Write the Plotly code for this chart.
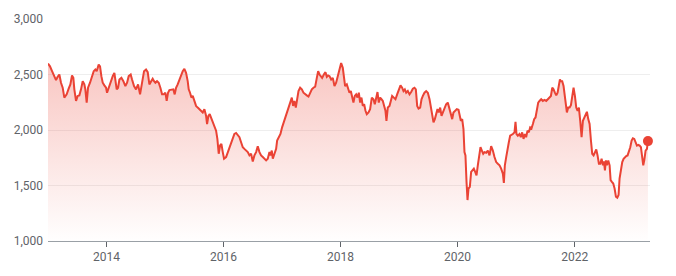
import pandas as pd
import plotly.graph_objects as go

# Decimal-year positions of the readings and the values
years = [
    2013.000, 2013.034, 2013.069, 2013.108, 2013.137, 2013.165, 2013.194, 2013.222, 2013.251, 2013.279,
    2013.319, 2013.353, 2013.382, 2013.410, 2013.433, 2013.450, 2013.479, 2013.507, 2013.536, 2013.564,
    2013.593, 2013.621, 2013.638, 2013.661, 2013.684, 2013.718, 2013.752, 2013.781, 2013.809, 2013.832,
    2013.866, 2013.889, 2013.912, 2013.935, 2013.963, 2013.992, 2014.009, 2014.037, 2014.077, 2014.106,
    2014.134, 2014.151, 2014.174, 2014.197, 2014.220, 2014.254, 2014.288, 2014.322, 2014.351, 2014.379,
    2014.413, 2014.436, 2014.470, 2014.504, 2014.539, 2014.573, 2014.607, 2014.641, 2014.675, 2014.704,
    2014.732, 2014.760, 2014.789, 2014.812, 2014.835, 2014.863, 2014.892, 2014.920, 2014.949, 2014.977,
    2015.005, 2015.028, 2015.051, 2015.074, 2015.108, 2015.142, 2015.165, 2015.188, 2015.216, 2015.245,
    2015.273, 2015.302, 2015.330, 2015.359, 2015.387, 2015.404, 2015.427, 2015.450, 2015.473, 2015.501,
    2015.530, 2015.558, 2015.587, 2015.615, 2015.644, 2015.672, 2015.701, 2015.718, 2015.741, 2015.763,
    2015.786, 2015.815, 2015.843, 2015.872, 2015.894, 2015.917, 2015.940, 2015.963, 2015.986, 2016.008,
    2016.043, 2016.071, 2016.100, 2016.128, 2016.157, 2016.185, 2016.214, 2016.242, 2016.271, 2016.299,
    2016.328, 2016.356, 2016.385,
    2016.413, 2016.442, 2016.470, 2016.499, 2016.527, 2016.556, 2016.584, 2016.613, 2016.641, 2016.670,
    2016.698, 2016.727, 2016.755, 2016.784, 2016.801, 2016.824, 2016.841, 2016.869, 2016.898, 2016.915,
    2016.943, 2016.972, 2017.000, 2017.029, 2017.057, 2017.086, 2017.114, 2017.143, 2017.166, 2017.188,
    2017.211, 2017.234, 2017.257, 2017.280, 2017.308, 2017.337, 2017.365, 2017.394, 2017.422, 2017.451,
    2017.479, 2017.508, 2017.536, 2017.565, 2017.593, 2017.616, 2017.639, 2017.661, 2017.684, 2017.713,
    2017.741, 2017.764, 2017.787, 2017.810, 2017.838, 2017.866, 2017.895, 2017.923, 2017.952, 2017.980,
    2018.009, 2018.037, 2018.054, 2018.077, 2018.106,
    2018.122, 2018.151, 2018.174, 2018.197, 2018.219, 2018.242, 2018.265, 2018.288, 2018.311, 2018.333,
    2018.356, 2018.379, 2018.402, 2018.425, 2018.447, 2018.476, 2018.504, 2018.533, 2018.561, 2018.584,
    2018.607, 2018.630, 2018.652, 2018.675, 2018.698, 2018.721, 2018.744, 2018.766, 2018.783, 2018.806,
    2018.835, 2018.858, 2018.880, 2018.909, 2018.937, 2018.966, 2018.994, 2019.023, 2019.051, 2019.074,
    2019.097, 2019.120, 2019.148, 2019.177, 2019.205, 2019.234, 2019.262, 2019.285, 2019.308, 2019.331,
    2019.359, 2019.382, 2019.405, 2019.433, 2019.462, 2019.490, 2019.519, 2019.541, 2019.564, 2019.587,
    2019.610, 2019.632, 2019.655, 2019.678, 2019.701, 2019.724, 2019.746, 2019.775, 2019.803,
    2019.831, 2019.860, 2019.883, 2019.906, 2019.928, 2019.957, 2019.985, 2020.014, 2020.037, 2020.054,
    2020.077, 2020.099, 2020.116, 2020.133, 2020.151, 2020.168, 2020.185, 2020.208, 2020.230, 2020.253,
    2020.276, 2020.299, 2020.322, 2020.344, 2020.367, 2020.390, 2020.413, 2020.436, 2020.458, 2020.487,
    2020.515, 2020.544, 2020.572, 2020.601, 2020.629, 2020.658, 2020.686, 2020.715, 2020.743, 2020.772,
    2020.789, 2020.806, 2020.829, 2020.851, 2020.874, 2020.897, 2020.920, 2020.943, 2020.971, 2020.988,
    2021.005, 2021.028, 2021.056, 2021.079, 2021.102, 2021.125, 2021.148, 2021.170, 2021.193, 2021.216,
    2021.239, 2021.262, 2021.285, 2021.307, 2021.330, 2021.353, 2021.376, 2021.398, 2021.427, 2021.455,
    2021.484, 2021.513, 2021.541,
    2021.570, 2021.593, 2021.616, 2021.638, 2021.661, 2021.684, 2021.707, 2021.730, 2021.747, 2021.764,
    2021.786, 2021.809, 2021.826, 2021.843, 2021.866, 2021.889, 2021.912, 2021.935, 2021.957, 2021.980,
    2022.003, 2022.026, 2022.049, 2022.071, 2022.094, 2022.117, 2022.140, 2022.163, 2022.185, 2022.208,
    2022.231, 2022.254, 2022.277, 2022.299, 2022.322, 2022.345, 2022.368, 2022.390, 2022.413, 2022.436,
    2022.459, 2022.482, 2022.499, 2022.516, 2022.533, 2022.550, 2022.573, 2022.596, 2022.613, 2022.635,
    2022.658, 2022.681, 2022.704, 2022.727, 2022.749, 2022.766, 2022.789, 2022.812, 2022.835, 2022.858,
    2022.880, 2022.903, 2022.926, 2022.949, 2022.972, 2022.994, 2023.017, 2023.040, 2023.063, 2023.086,
    2023.108, 2023.131, 2023.154, 2023.171, 2023.188, 2023.211, 2023.234, 2023.251,
]

prices = [
    2598, 2574, 2530, 2485, 2449, 2479, 2500, 2426, 2381, 2292,
    2321, 2372, 2411, 2491, 2470, 2366, 2262, 2307, 2312, 2366,
    2440, 2411, 2366, 2247, 2381, 2426, 2485, 2530, 2545, 2530,
    2589, 2574, 2485, 2426, 2402, 2381, 2336, 2381, 2440, 2485,
    2515, 2455, 2366, 2381, 2455, 2470, 2440, 2396, 2426, 2485,
    2500, 2455, 2396, 2366, 2411, 2321, 2440, 2530, 2545, 2521,
    2411, 2432, 2461, 2440, 2426, 2440, 2426, 2381, 2321, 2321,
    2336, 2262, 2336, 2360, 2366, 2366, 2321, 2381, 2411, 2455,
    2500, 2530, 2551, 2515, 2440, 2366, 2336, 2292, 2307, 2262,
    2217, 2202, 2188, 2173, 2158, 2188, 2128, 2054, 2128, 2143,
    2113, 2068, 2024, 1994, 1920, 1786, 1860, 1875, 1801, 1741,
    1756, 1801, 1845, 1875, 1920, 1964, 1973, 1949, 1935, 1890,
    1845, 1830, 1815,
    1801, 1771, 1786, 1717, 1771, 1801, 1854, 1801, 1771, 1756,
    1741, 1726, 1741, 1801, 1771, 1815, 1741, 1786, 1830, 1905,
    1935, 1964, 2024, 2068, 2113, 2173, 2217, 2241, 2292, 2217,
    2262, 2202, 2277, 2351, 2381, 2366, 2336, 2321, 2312, 2301,
    2336, 2366, 2381, 2390, 2470, 2530, 2500, 2485, 2470, 2500,
    2521, 2479, 2491, 2485, 2455, 2470, 2396, 2426, 2485, 2545,
    2604, 2560, 2470, 2396, 2411,
    2381, 2336, 2351, 2277, 2247, 2307, 2321, 2292, 2336, 2247,
    2292, 2217, 2232, 2173, 2143, 2158, 2188, 2292, 2277, 2232,
    2307, 2342, 2247, 2292, 2277, 2262, 2217, 2173, 2083, 2202,
    2217, 2262, 2307, 2292, 2277, 2321, 2366, 2402, 2381, 2351,
    2366, 2336, 2351, 2321, 2342, 2372, 2381, 2366, 2217, 2193,
    2202, 2277, 2307, 2336, 2351, 2336, 2277, 2217, 2143, 2068,
    2098, 2143, 2188, 2158, 2202, 2128, 2158, 2188, 2232,
    2247, 2188, 2128, 2098, 2158, 2173, 2188, 2182, 2128, 2083,
    2098, 2009, 1801, 1771, 1533, 1369, 1473, 1488, 1622, 1637,
    1652, 1622, 1592, 1682, 1771, 1845, 1815, 1786, 1801, 1795,
    1815, 1771, 1854, 1815, 1756, 1711, 1696, 1682, 1652, 1607,
    1524, 1682, 1756, 1845, 1890, 1949, 1955, 1964, 1979, 2074,
    1964, 1949, 1964, 1935, 1979, 1920, 1964, 1935, 1994, 1979,
    2024, 2015, 2054, 2098, 2113, 2202, 2247, 2262, 2277, 2262,
    2271, 2262, 2275,
    2292, 2307, 2381, 2366, 2336, 2312, 2336, 2426, 2455, 2440,
    2440, 2396, 2336, 2247, 2158, 2202, 2202, 2223, 2292, 2381,
    2307, 2202, 2173, 2202, 2083, 1935, 2083, 2113, 2143, 2164,
    2098, 2054, 1905, 1786, 1771, 1801, 1824, 1771, 1696, 1696,
    1741, 1682, 1717, 1637, 1726, 1682, 1726, 1682, 1548, 1533,
    1518, 1473, 1399, 1390, 1414, 1562, 1652, 1711, 1741, 1756,
    1765, 1771, 1801, 1845, 1905, 1926, 1920, 1890, 1860, 1866,
    1860, 1845, 1726, 1682, 1726, 1815, 1830, 1900,
]

y_ticks = [1000, 1500, 2000, 2500, 3000]
x_ticks = ["2014-01-01", "2016-01-01", "2018-01-01", "2020-01-01", "2022-01-01"]
x_tick_labels = ["2014", "2016", "2018", "2020", "2022"]
x_range = ["2013-01-01", "2023-04-16"]
y_range = [1000, 3000]

origin = pd.Timestamp("2013-01-01")
dates = [origin + pd.Timedelta(days=(y - 2013) * 365.25) for y in years]

LINE = "#ea4335"

fig = go.Figure()
fig.add_trace(go.Scatter(
    x=dates, y=prices, mode="lines",
    line=dict(color=LINE, width=2),
    fill="tozeroy",
    fillgradient=dict(
        type="vertical",
        colorscale=[[0, "rgba(234,67,53,0)"], [1, "rgba(234,67,53,0.30)"]],
        start=1000, stop=2600,
    ),
    hoverinfo="skip",
))
fig.add_trace(go.Scatter(
    x=[dates[-1]], y=[prices[-1]], mode="markers",
    marker=dict(color=LINE, size=10),
    cliponaxis=False, hoverinfo="skip",
))

fig.update_layout(
    width=676, height=276,
    margin=dict(l=48, r=26, t=17, b=35),
    plot_bgcolor="white", paper_bgcolor="white",
    showlegend=False,
    font=dict(family="Roboto, Arial, sans-serif", size=12, color="#5f6368"),
)
fig.update_xaxes(
    range=x_range, tickvals=x_ticks, ticktext=x_tick_labels,
    ticks="outside", ticklen=5, tickwidth=1, tickcolor="#5f6368",
    showline=True, linecolor="#9aa0a6", linewidth=1,
    showgrid=False, zeroline=False,
)
fig.update_yaxes(
    range=y_range, tickvals=y_ticks, tickformat=",",
    showgrid=True, gridcolor="#eeeeee", gridwidth=1,
    zeroline=False, showline=False, ticks="",
    ticklabelstandoff=4,
)

fig.write_html("out.html", config={"displayModeBar": False})
